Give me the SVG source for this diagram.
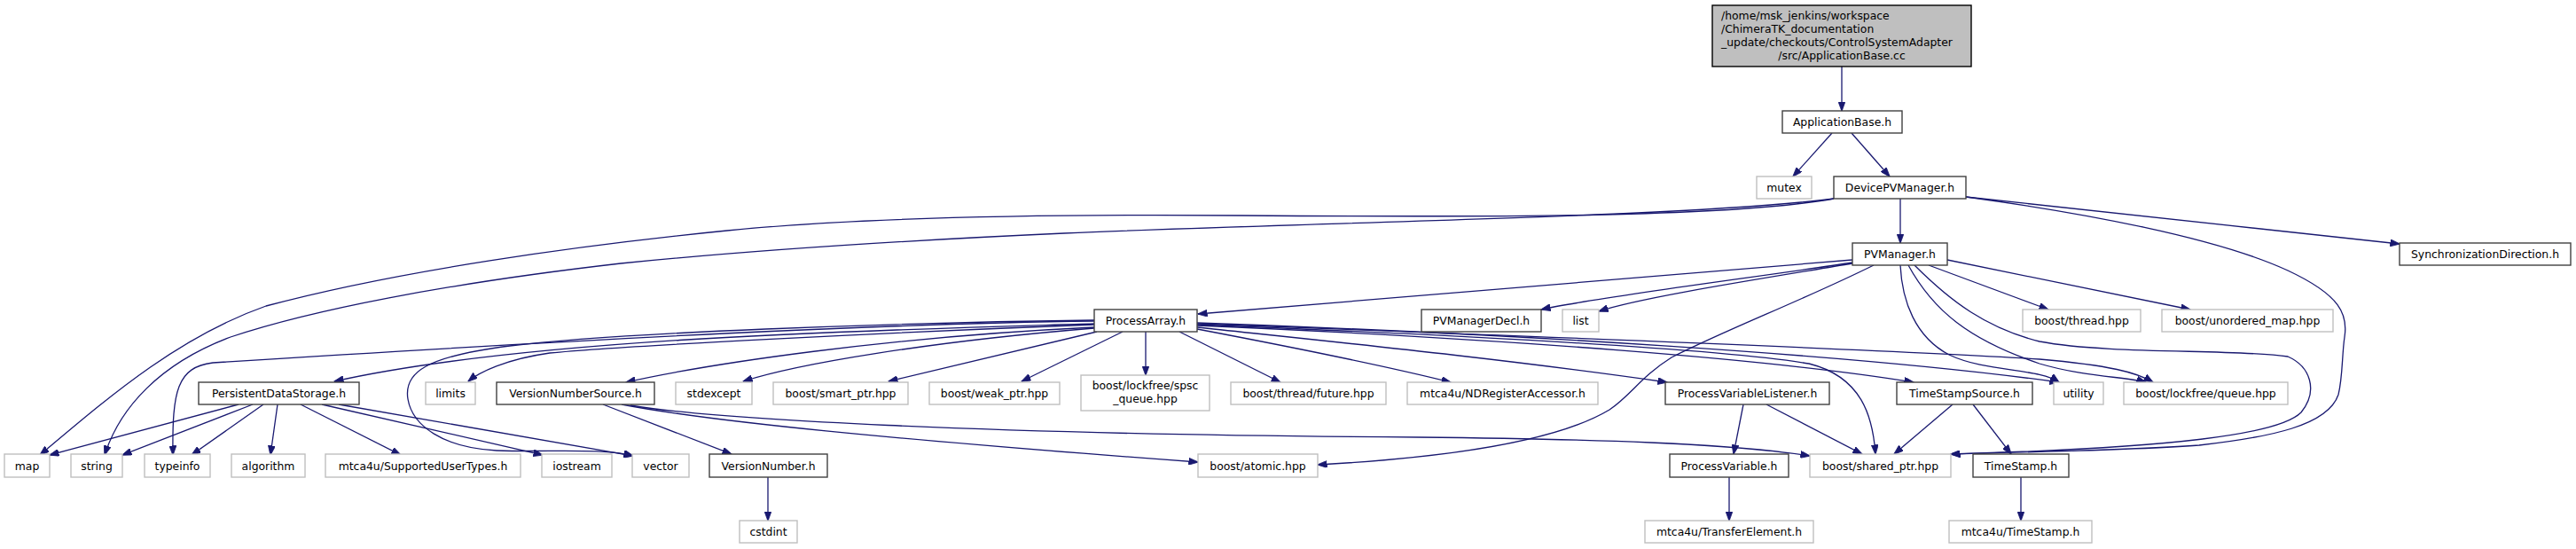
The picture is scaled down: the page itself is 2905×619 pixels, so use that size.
<svg xmlns="http://www.w3.org/2000/svg" width="2905" height="619" viewBox="0 0 2905 619">
<style>
.bg{fill:#ffffff}
.d rect{fill:#ffffff;stroke:#404040;stroke-width:1.4}
.x rect{fill:#ffffff;stroke:#bfbfbf;stroke-width:1.4}
.r rect{fill:#bfbfbf;stroke:#000000;stroke-width:1.4}
text{font-family:"DejaVu Sans","Liberation Sans",sans-serif;font-size:12.4px;fill:#000000;text-anchor:middle}
text.l{text-anchor:start}
#edges path{fill:none;stroke:#191970;stroke-width:1.3;marker-end:url(#ah)}
</style>
<defs>
<marker id="ah" markerUnits="userSpaceOnUse" markerWidth="11" markerHeight="8" viewBox="0 0 11 8" refX="10.5" refY="4" orient="auto">
<path d="M0,0 L11,4 L0,8 z" fill="#191970" stroke="#191970" stroke-width="0.8"/>
</marker>
</defs>
<rect class="bg" x="0" y="0" width="2905" height="619"/>
<g id="edges">
<path d="M2077,75 L2077,125"/>
<path d="M2066,150 L2022,199"/>
<path d="M2088,150 L2131,199"/>
<path d="M2143,224 L2143,274"/>
<path d="M2217,222 L2706,275"/>
<path d="M2217,222 C2350,240 2500,268 2580,305 C2640,333 2648,355 2644,380 C2641,400 2642,425 2637,445 C2625,480 2560,493 2480,502 C2400,508 2300,509 2200,512"/>
<path d="M2068,224 C1950,245 1700,245 1400,243 C1150,241 950,247 820,260 C650,277 450,305 300,345 C200,380 120,450 45,513"/>
<path d="M2068,224 C1900,245 1500,250 1200,263 C1000,272 850,282 700,297 C500,320 350,350 260,380 C180,410 135,460 118,513"/>
<path d="M2089,293 L1351,354"/>
<path d="M2089,296 C2000,310 1800,335 1738,349"/>
<path d="M2089,297 C2000,312 1850,335 1803,351"/>
<path d="M2113,299 C2030,340 1950,370 1885,403 C1850,425 1840,445 1815,462 C1760,495 1650,515 1486,524"/>
<path d="M2143,299 C2145,340 2160,380 2198,400 C2240,420 2300,415 2322,431"/>
<path d="M2152,299 C2180,350 2220,383 2300,410 C2350,425 2400,425 2420,431"/>
<path d="M2159,299 C2200,340 2240,370 2300,385 C2380,400 2520,393 2580,402 C2605,413 2615,440 2595,465 C2570,490 2450,505 2200,512"/>
<path d="M2175,299 L2310,349"/>
<path d="M2196,293 L2470,349"/>
<path d="M1234,362 C1000,365 700,380 240,409 C200,414 194,440 195,513"/>
<path d="M1234,361 C1000,364 700,375 575,390 C480,402 455,420 460,450 C465,480 500,505 560,508 C620,510 680,505 714,514"/>
<path d="M1234,365 C1000,372 600,380 377,430"/>
<path d="M1234,366 C1000,375 700,390 620,398 C570,405 540,420 528,430"/>
<path d="M1234,369 C1000,380 800,410 706,431"/>
<path d="M1234,370 C1050,385 900,410 838,430"/>
<path d="M1237,374 L1002,430"/>
<path d="M1266,374 L1152,430"/>
<path d="M1292,374 L1292,423"/>
<path d="M1330,374 L1444,431"/>
<path d="M1350,371 C1450,390 1560,412 1636,431"/>
<path d="M1350,369 C1500,385 1700,405 1880,431"/>
<path d="M1350,364 C1700,376 2100,400 2322,431"/>
<path d="M1350,365 C1700,378 2150,395 2300,405 C2380,412 2410,420 2428,431"/>
<path d="M1350,366 C1700,380 1950,395 2040,410 C2100,425 2112,470 2115,512"/>
<path d="M1350,367 C1700,382 2000,405 2158,431"/>
<path d="M269,456 L56,513"/>
<path d="M285,456 L138,513"/>
<path d="M297,456 L216,513"/>
<path d="M313,456 L305,513"/>
<path d="M339,456 L452,513"/>
<path d="M363,456 L612,513"/>
<path d="M382,456 L714,514"/>
<path d="M680,456 L825,512"/>
<path d="M701,456 C800,475 1000,495 1351,521"/>
<path d="M711,457 C800,472 1100,490 1600,493 C1800,495 1950,500 2041,514"/>
<path d="M866,538 L866,587"/>
<path d="M1966,456 L1955,512"/>
<path d="M1992,456 L2100,512"/>
<path d="M2202,456 L2136,512"/>
<path d="M2225,456 L2268,512"/>
<path d="M1950,538 L1950,587"/>
<path d="M2279,538 L2279,587"/>
</g>
<g id="n_appbase_cc" class="r"><rect x="1931" y="6" width="292" height="69"/><text class="l" x="1941" y="22">/home/msk_jenkins/workspace</text><text class="l" x="1941" y="37">/ChimeraTK_documentation</text><text class="l" x="1941" y="52">_update/checkouts/ControlSystemAdapter</text><text x="2077" y="66.5">/src/ApplicationBase.cc</text></g>
<g id="n_appbase_h" class="d"><rect x="2010" y="125" width="135" height="25"/><text x="2077.5" y="142">ApplicationBase.h</text></g>
<g id="n_mutex" class="x"><rect x="1981" y="199" width="62" height="25"/><text x="2012" y="216">mutex</text></g>
<g id="n_devicepvmanager" class="d"><rect x="2068" y="199" width="149" height="25"/><text x="2142.5" y="216">DevicePVManager.h</text></g>
<g id="n_pvmanager" class="d"><rect x="2089" y="274" width="107" height="25"/><text x="2142.5" y="291">PVManager.h</text></g>
<g id="n_syncdir" class="d"><rect x="2706" y="274" width="193" height="25"/><text x="2802.5" y="291">SynchronizationDirection.h</text></g>
<g id="n_processarray" class="d"><rect x="1234" y="349" width="116" height="25"/><text x="1292" y="366">ProcessArray.h</text></g>
<g id="n_pvmanagerdecl" class="d"><rect x="1603" y="349" width="135" height="25"/><text x="1670.5" y="366">PVManagerDecl.h</text></g>
<g id="n_list" class="x"><rect x="1762" y="349" width="41" height="25"/><text x="1782.5" y="366">list</text></g>
<g id="n_boost_thread" class="x"><rect x="2281" y="349" width="133" height="25"/><text x="2347.5" y="366">boost/thread.hpp</text></g>
<g id="n_unordered_map" class="x"><rect x="2438" y="349" width="193" height="25"/><text x="2534.5" y="366">boost/unordered_map.hpp</text></g>
<g id="n_pds" class="d"><rect x="224" y="431" width="181" height="25"/><text x="314.5" y="448">PersistentDataStorage.h</text></g>
<g id="n_limits" class="x"><rect x="480" y="431" width="56" height="25"/><text x="508" y="448">limits</text></g>
<g id="n_vns" class="d"><rect x="560" y="431" width="178" height="25"/><text x="649" y="448">VersionNumberSource.h</text></g>
<g id="n_stdexcept" class="x"><rect x="762" y="431" width="86" height="25"/><text x="805" y="448">stdexcept</text></g>
<g id="n_smart_ptr" class="x"><rect x="872" y="431" width="152" height="25"/><text x="948" y="448">boost/smart_ptr.hpp</text></g>
<g id="n_weak_ptr" class="x"><rect x="1048" y="431" width="147" height="25"/><text x="1121.5" y="448">boost/weak_ptr.hpp</text></g>
<g id="n_spsc" class="x"><rect x="1219" y="423" width="145" height="40"/><text x="1291.5" y="439">boost/lockfree/spsc</text><text x="1291.5" y="454">_queue.hpp</text></g>
<g id="n_future" class="x"><rect x="1388" y="431" width="175" height="25"/><text x="1475.5" y="448">boost/thread/future.hpp</text></g>
<g id="n_ndra" class="x"><rect x="1587" y="431" width="215" height="25"/><text x="1694.5" y="448">mtca4u/NDRegisterAccessor.h</text></g>
<g id="n_pvl" class="d"><rect x="1878" y="431" width="185" height="25"/><text x="1970.5" y="448">ProcessVariableListener.h</text></g>
<g id="n_tss" class="d"><rect x="2139" y="431" width="153" height="25"/><text x="2215.5" y="448">TimeStampSource.h</text></g>
<g id="n_utility" class="x"><rect x="2316" y="431" width="56" height="25"/><text x="2344" y="448">utility</text></g>
<g id="n_lf_queue" class="x"><rect x="2395" y="431" width="185" height="25"/><text x="2487.5" y="448">boost/lockfree/queue.hpp</text></g>
<g id="n_map" class="x"><rect x="5" y="512" width="51" height="26"/><text x="30.5" y="529.5">map</text></g>
<g id="n_string" class="x"><rect x="80" y="512" width="58" height="26"/><text x="109" y="529.5">string</text></g>
<g id="n_typeinfo" class="x"><rect x="163" y="512" width="74" height="26"/><text x="200" y="529.5">typeinfo</text></g>
<g id="n_algorithm" class="x"><rect x="261" y="512" width="83" height="26"/><text x="302.5" y="529.5">algorithm</text></g>
<g id="n_sut" class="x"><rect x="367" y="512" width="220" height="26"/><text x="477" y="529.5">mtca4u/SupportedUserTypes.h</text></g>
<g id="n_iostream" class="x"><rect x="611" y="512" width="79" height="26"/><text x="650.5" y="529.5">iostream</text></g>
<g id="n_vector" class="x"><rect x="713" y="512" width="64" height="26"/><text x="745" y="529.5">vector</text></g>
<g id="n_versionnumber" class="d"><rect x="800" y="512" width="133" height="26"/><text x="866.5" y="529.5">VersionNumber.h</text></g>
<g id="n_atomic" class="x"><rect x="1351" y="512" width="135" height="26"/><text x="1418.5" y="529.5">boost/atomic.hpp</text></g>
<g id="n_pv" class="d"><rect x="1883" y="512" width="134" height="26"/><text x="1950" y="529.5">ProcessVariable.h</text></g>
<g id="n_shared_ptr" class="x"><rect x="2041" y="512" width="159" height="26"/><text x="2120.5" y="529.5">boost/shared_ptr.hpp</text></g>
<g id="n_timestamp" class="d"><rect x="2225" y="512" width="108" height="26"/><text x="2279" y="529.5">TimeStamp.h</text></g>
<g id="n_cstdint" class="x"><rect x="834" y="587" width="65" height="25"/><text x="866.5" y="604">cstdint</text></g>
<g id="n_transferelement" class="x"><rect x="1855" y="587" width="190" height="25"/><text x="1950" y="604">mtca4u/TransferElement.h</text></g>
<g id="n_mtca_timestamp" class="x"><rect x="2198" y="587" width="161" height="25"/><text x="2278.5" y="604">mtca4u/TimeStamp.h</text></g>
</svg>
